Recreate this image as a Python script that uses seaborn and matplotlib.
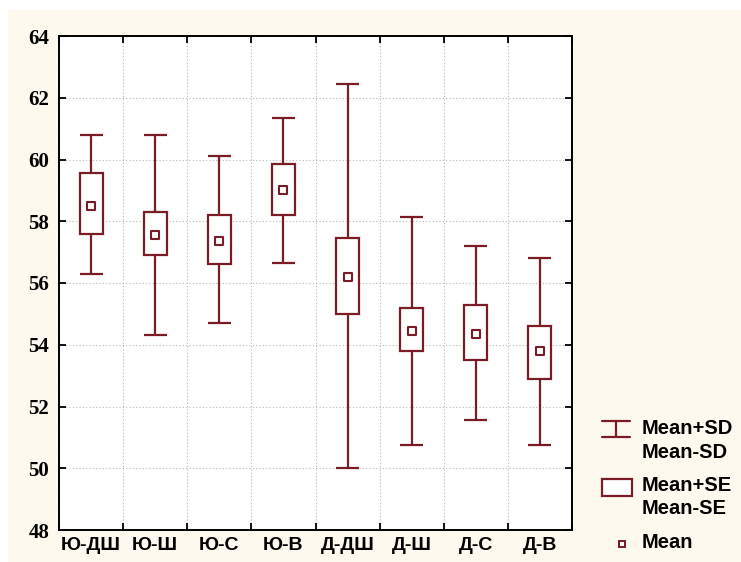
import numpy as np
import pandas as pd
import matplotlib
matplotlib.use('Agg')
import matplotlib.pyplot as plt
import seaborn as sns
from matplotlib.patches import Rectangle

# groups and their summary values
groups = ['Ю-ДШ', 'Ю-Ш', 'Ю-С', 'Ю-В', 'Д-ДШ', 'Д-Ш', 'Д-С', 'Д-В']
mean = [58.5, 57.55, 57.35, 59.0, 56.2, 54.45, 54.35, 53.8]
se_low = [57.6, 56.9, 56.6, 58.2, 55.0, 53.8, 53.5, 52.9]
se_high = [59.55, 58.3, 58.2, 59.85, 57.45, 55.2, 55.3, 54.6]
sd_low = [56.3, 54.3, 54.7, 56.65, 50.0, 50.75, 51.55, 50.75]
sd_high = [60.8, 60.8, 60.1, 61.35, 62.45, 58.15, 57.2, 56.8]

df = pd.DataFrame({'group': groups, 'mean': mean,
                   'se_low': se_low, 'se_high': se_high,
                   'sd_low': sd_low, 'sd_high': sd_high})
df['x'] = np.arange(len(df))

sns.set_style('white')
plt.rcParams['text.color'] = 'black'
plt.rcParams['xtick.color'] = 'black'
plt.rcParams['ytick.color'] = 'black'
col = '#7a1b26'
cream = '#fef9ee'
lw = 1.6
sans = ['Liberation Sans Narrow', 'Liberation Sans', 'DejaVu Sans']

fig = plt.figure(figsize=(7.41, 5.62), dpi=100, facecolor='white')
fig.patches.append(Rectangle((8 / 741, 0), 1, 1 - 10 / 562, transform=fig.transFigure,
                             facecolor=cream, edgecolor='none', zorder=-10))
ax = fig.add_axes([59 / 741, 1 - 530 / 562, (572 - 59) / 741, (530 - 36) / 562])
ax.set_facecolor('white')

# whiskers (mean +/- SD)
ax.vlines(df['x'], df['sd_low'], df['sd_high'], color=col, lw=lw, zorder=3)
ax.hlines(df['sd_low'], df['x'] - 0.18, df['x'] + 0.18, color=col, lw=lw, zorder=3)
ax.hlines(df['sd_high'], df['x'] - 0.18, df['x'] + 0.18, color=col, lw=lw, zorder=3)

# boxes (mean +/- SE)
ax.bar(df['x'], df['se_high'] - df['se_low'], bottom=df['se_low'], width=0.36,
       facecolor='white', edgecolor=col, linewidth=lw, zorder=4)

# means
sns.scatterplot(data=df, x='x', y='mean', marker='s', s=30, facecolor='white',
                edgecolor=col, linewidth=1.5, ax=ax, zorder=5, legend=False)

ax.set_xlim(-0.5, len(groups) - 0.5)
ax.set_ylim(48, 64)
ax.set_xticks(np.arange(len(groups) + 1) - 0.5, minor=False)
ax.set_xticklabels([])
ax.set_xticks(np.arange(len(groups)), minor=True)
ax.set_xticklabels(groups, minor=True, fontsize=14, fontweight='bold', family=sans,
                   color='black')
ax.tick_params(axis='x', which='minor', length=0, pad=5)
ax.tick_params(axis='x', which='major', direction='in', length=5, width=1.3,
               top=True, bottom=True, color='black')
ax.set_yticks(np.arange(48, 65, 2))
ax.set_yticklabels([str(v) for v in range(48, 65, 2)], fontsize=15, fontweight='bold',
                   family=['Liberation Serif', 'DejaVu Serif'], color='black')
ax.tick_params(axis='y', direction='in', length=5, width=1.3, left=True, right=True,
               color='black', pad=7)
ax.grid(True, which='major', color='#b8b8b8', linestyle=(0, (1, 2)), lw=0.8)
ax.set_xlabel('')
ax.set_ylabel('')
for s in ax.spines.values():
    s.set_color('black')
    s.set_linewidth(1.4)

# legend
lax = fig.add_axes([595 / 741, 1 - 560 / 562, 146 / 741, 150 / 562])
lax.set_xlim(595, 741)
lax.set_ylim(560, 410)
lax.axis('off')
lax.plot([602, 630], [421, 421], color=col, lw=lw)
lax.plot([602, 630], [437, 437], color=col, lw=lw)
lax.plot([616, 616], [421, 437], color=col, lw=lw)
lax.add_patch(Rectangle((602, 479), 30, 17, facecolor='white', edgecolor=col, lw=lw))
lax.plot([622], [544], marker='s', ms=5, mfc='white', mec=col, mew=1.4)
for y, t in [(428, 'Mean+SD'), (452, 'Mean-SD'), (485, 'Mean+SE'),
             (508, 'Mean-SE'), (543, 'Mean')]:
    lax.text(642, y, t, fontsize=14.5, fontweight='bold', family=sans, va='center',
             color='black')

fig.savefig('out.png', dpi=100, facecolor='white')
